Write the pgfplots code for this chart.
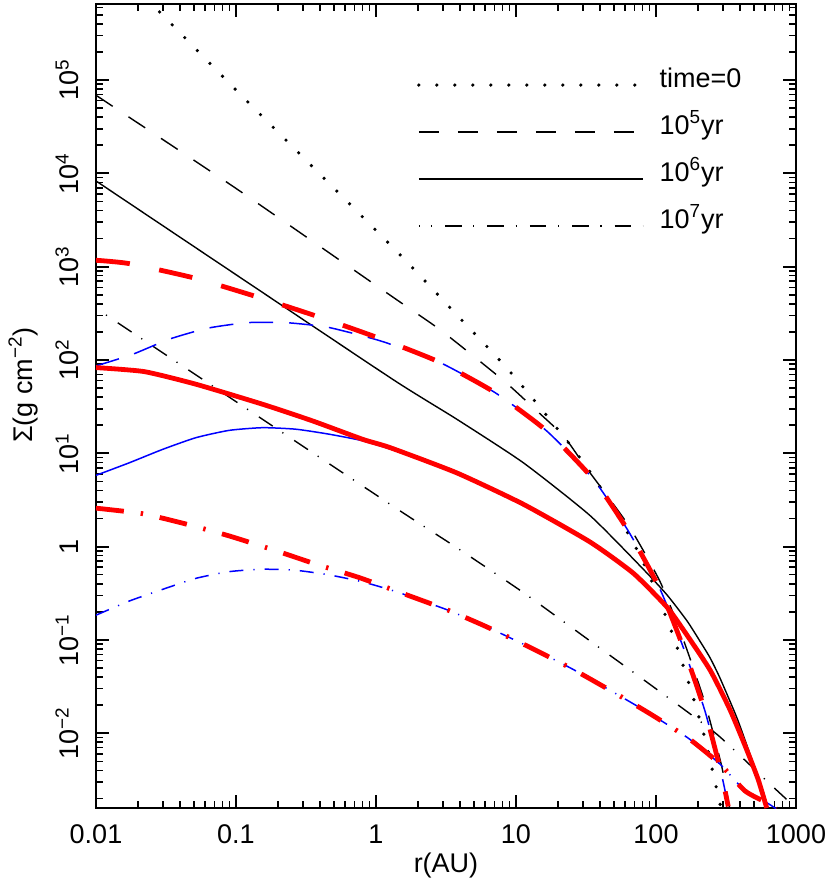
\documentclass[border=0pt]{standalone}
\usepackage{fontspec}
\setmainfont{Liberation Sans}
\usepackage{pgfplots}
\pgfplotsset{compat=1.18}

\newcommand{\lbl}{\fontsize{13.5}{16}\selectfont}

\begin{document}
\begin{tikzpicture}
\begin{axis}[
  scale only axis, width=350pt, height=402pt,
  xmode=log, ymode=log,
  xmin=0.01, xmax=1000, ymin=1.58e-3, ymax=6.52e5,
  xtick={0.01,0.1,1,10,100,1000},
  xticklabels={0.01,0.1,1,10,100,1000},
  minor xtick={0.02,0.03,0.04,0.05,0.06,0.07,0.08,0.09,
    0.2,0.3,0.4,0.5,0.6,0.7,0.8,0.9,2,3,4,5,6,7,8,9,
    20,30,40,50,60,70,80,90,200,300,400,500,600,700,800,900},
  ytick={1e-2,1e-1,1,10,100,1e3,1e4,1e5},
  yticklabels={10\textsuperscript{−2},10\textsuperscript{−1},1,
    10\textsuperscript{1},10\textsuperscript{2},10\textsuperscript{3},
    10\textsuperscript{4},10\textsuperscript{5}},
  minor ytick={2e-3,3e-3,4e-3,5e-3,6e-3,7e-3,8e-3,9e-3,
    2e-2,3e-2,4e-2,5e-2,6e-2,7e-2,8e-2,9e-2,
    0.2,0.3,0.4,0.5,0.6,0.7,0.8,0.9,2,3,4,5,6,7,8,9,
    20,30,40,50,60,70,80,90,200,300,400,500,600,700,800,900,
    2e3,3e3,4e3,5e3,6e3,7e3,8e3,9e3,2e4,3e4,4e4,5e4,6e4,7e4,8e4,9e4,
    2e5,3e5,4e5,5e5,6e5},
  tick align=inside,
  major tick length=6.5pt, minor tick length=3.5pt,
  major tick style={line width=1pt, black},
  minor tick style={line width=0.8pt, black},
  axis line style={line width=1pt},
  tick label style={font=\lbl},
  xticklabel style={anchor=base, yshift=-17.5pt},
  yticklabel style={xshift=-8.5pt, rotate=90, anchor=base},
  xlabel={r(AU)},
  ylabel={Σ(g cm\textsuperscript{−2})},
  label style={font=\lbl},
  xlabel style={at={(axis description cs:0.5,-0.0796)}, anchor=base},
  ylabel style={at={(axis description cs:-0.0914,0.526)}, anchor=base},
  legend style={draw=none, fill=none, at={(rel axis cs:0.4586,0.9216)},
    anchor=north west, inner sep=0pt, outer sep=0pt, font=\lbl,
    row sep=10.5pt, column sep=7.5pt,
    nodes={inner sep=0pt, text height=10pt, text depth=3pt}},
  legend cell align=left,
  legend image code/.code={\path[draw=none, fill=none] (0pt,-6pt) rectangle (112pt,6pt);
    \draw[#1] (0pt,-2.5pt) -- (112pt,-2.5pt);},
  every axis plot/.append style={smooth, tension=0.35},
]
% black: initial and analytic profiles
\addplot[black, line width=1.8pt, line cap=round, dash pattern=on 0pt off 9pt] coordinates {
  (0.01,2.58e6) (0.0254,6.37e5) (0.109,6.86e4) (1.338,1574) (3.71,313)
  (8.34,86.3) (14.8,31.3) (25.6,11.2) (36.5,5.35) (57.8,1.74) (76.9,0.801)
  (98.4,0.352) (135,0.1026) (178,0.0288) (225,0.0085) (276,0.00225) (291,0.00158)
};
\addlegendentry{time=0}
\addplot[black, line width=0.7pt, dash pattern=on 10pt off 9.5pt] coordinates {
  (0.01,6.86e4) (0.1,6890) (1.338,465) (2.94,205) (8.11,60.5) (13.3,30.8)
  (21.8,15.4) (31.1,7.31) (63.4,1.7) (107,0.42) (157,0.1) (224,0.021)
  (294,0.0045) (335,0.0016)
};
\addlegendentry{10\textsuperscript{5}yr}
\addplot[black, line width=0.7pt] coordinates {
  (0.01,8280) (0.1,820) (1.338,61) (3.77,23.2) (11.3,7.9) (33.8,2.15)
  (80.7,0.577) (120,0.303) (166.5,0.160) (206,0.097) (243,0.0645)
  (286.5,0.039) (379,0.01455) (469,0.00598) (581,0.0024) (631,0.00154)
};
\addlegendentry{10\textsuperscript{6}yr}
\addplot[black, line width=0.7pt, dash pattern=on 8.3pt off 5.8pt on 0.6pt off 6.5pt, dash phase=8.1pt] coordinates {
  (0.01,358) (1.21,2.96) (3.77,0.975) (11.3,0.321) (33.8,0.0975)
  (101,0.0296) (272,0.00975) (618,0.00308) (881,0.00188)
};
\addlegendentry{10\textsuperscript{7}yr}
% blue thin
\addplot[blue, line width=0.75pt, dash pattern=on 12pt off 8pt, forget plot] coordinates {
  (0.01,86.3) (0.0183,115) (0.0334,167) (0.0628,219) (0.121,251) (0.228,251)
  (0.44,226) (0.804,181) (1.18,153) (2.79,95.8) (7.08,44.7) (16.6,17.3)
  (35.7,5.26) (63.4,1.47) (107,0.348) (157,0.0822) (224,0.0172) (294,0.0036) (328,0.00164)
};
\addplot[blue, line width=0.75pt, forget plot] coordinates {
  (0.01,5.80) (0.0173,7.91) (0.0299,11.0) (0.0518,14.7) (0.0895,17.6) (0.155,18.8)
  (0.268,18.1) (0.464,16.0) (0.804,13.6) (1.39,10.6) (3.77,6.17) (11.3,2.84)
  (33.8,1.12) (68.9,0.518) (119,0.227) (157,0.128) (243,0.0477) (338,0.0178)
  (445,0.00663) (538,0.00316) (618,0.00158)
};
\addplot[blue, line width=0.75pt, dash pattern=on 7pt off 5pt on 0.6pt off 5pt, forget plot] coordinates {
  (0.01,0.184) (0.0173,0.261) (0.0299,0.348) (0.0518,0.457) (0.0895,0.539)
  (0.155,0.572) (0.268,0.557) (0.464,0.497) (0.804,0.418) (1.39,0.329)
  (3.28,0.208) (6.18,0.138) (12.4,0.0841) (25.0,0.0492) (45.6,0.0296)
  (88.1,0.0166) (170,0.00885) (287,0.00466) (432,0.00241) (634,0.00176) (720,0.00155)
};
% red thick
\addplot[red, line width=2.4pt, dash pattern=on 17pt off 15pt, forget plot] coordinates {
  (0.01,1170) (0.0173,1077) (0.0491,762) (0.135,485) (0.373,296) (1.03,173)
  (2.79,95.8) (7.08,44.7) (16.6,17.3) (35.7,5.26) (63.4,1.47) (107,0.348)
  (157,0.0822) (224,0.0172) (294,0.0036) (328,0.00164)
};
\addplot[red, line width=2.4pt, forget plot] coordinates {
  (0.01,82.8) (0.0221,75.0) (0.0518,54.9) (0.155,33.5) (0.353,22.2) (0.804,14.1)
  (1.26,11.5) (3.77,6.17) (11.3,2.84) (33.8,1.12) (68.9,0.518) (119,0.227)
  (157,0.128) (243,0.0477) (338,0.0178) (445,0.00663) (538,0.00316) (618,0.00158)
};
\addplot[red, line width=2.4pt, dash pattern=on 14pt off 8.5pt on 1.2pt off 8.5pt, forget plot] coordinates {
  (0.01,2.58) (0.0216,2.25) (0.0463,1.71) (0.0895,1.30) (0.188,0.914) (0.394,0.631)
  (0.760,0.465) (1.57,0.313) (3.28,0.208) (6.18,0.138) (12.4,0.0841) (25.0,0.0492)
  (45.6,0.0296) (88.1,0.0166) (170,0.00885) (287,0.00466) (432,0.00241)
  (634,0.00176) (720,0.00155)
};
\end{axis}
\pgfresetboundingbox
\path[use as bounding box] ([shift={(-48pt,-38pt)}]current axis.south west)
  rectangle ([shift={(17pt,2pt)}]current axis.north east);
\end{tikzpicture}
\end{document}
